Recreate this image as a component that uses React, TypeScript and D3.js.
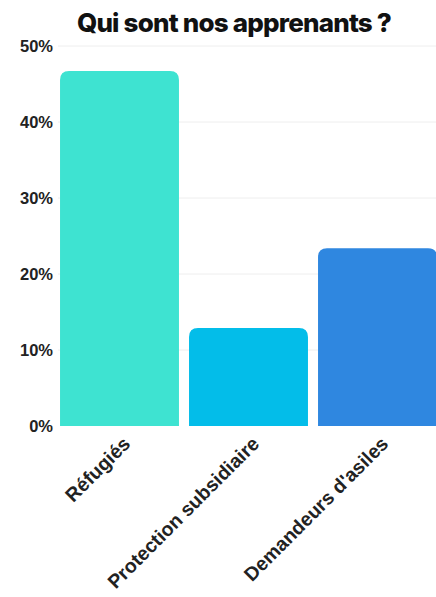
import React from "react";
import * as d3 from "d3";

const categories = ["Réfugiés", "Protection subsidiaire", "Demandeurs d'asiles"];
const values = [46.7, 12.9, 23.4];
const colors = ["#3ee3d1", "#03bde9", "#2f87e0"];
const yTicks = [0, 10, 20, 30, 40, 50];
const title = "Qui sont nos apprenants ?";

const W = 436;
const H = 597;

export default function App() {
  const x = d3.scaleBand<string>().domain(categories).range([55, 442]).paddingInner(0.078).paddingOuter(0.039);
  const y = d3.scaleLinear().domain([0, 50]).range([426, 46]);
  const r = 9;
  const barPath = (x0: number, w: number, yt: number, yb: number) => {
    const rr = Math.min(r, (yb - yt) / 2, w / 2);
    return `M${x0},${yb}V${yt + rr}Q${x0},${yt} ${x0 + rr},${yt}H${x0 + w - rr}Q${x0 + w},${yt} ${x0 + w},${yt + rr}V${yb}Z`;
  };
  return (
    <div style={{ position: "fixed", left: 0, top: 0, width: W, height: H, background: "#fff" }}>
      <svg width={W} height={H} style={{ display: "block" }}>
        <text x={234} y={32} textAnchor="middle" fontFamily="Inter, 'Noto Sans', sans-serif" fontWeight={800} fontSize={26} fill="#111" letterSpacing="-0.8">
          {title}
        </text>
        {yTicks.map((t) => (
          <g key={t}>
            {t > 0 && <line x1={58} x2={W} y1={y(t)} y2={y(t)} stroke="#eeeeee" strokeWidth={1} />}
            <text x={53} y={y(t)} dy="0.35em" textAnchor="end" fontFamily="'Liberation Sans', Arial, sans-serif" fontWeight={700} fontSize={16.5} fill="#222">
              {t}%
            </text>
          </g>
        ))}
        {categories.map((c, i) => (
          <path key={c} d={barPath(x(c)!, x.bandwidth(), y(values[i]), y(0))} fill={colors[i]} />
        ))}
        {categories.map((c) => {
          const cx = x(c)! + x.bandwidth() / 2 + 12;
          const cy = 445;
          return (
            <text key={c} transform={`translate(${cx},${cy}) rotate(-45)`} textAnchor="end" fontFamily="'Liberation Sans', Arial, sans-serif" fontWeight={700} fontSize={19.5} fill="#222">
              {c}
            </text>
          );
        })}
      </svg>
    </div>
  );
}
